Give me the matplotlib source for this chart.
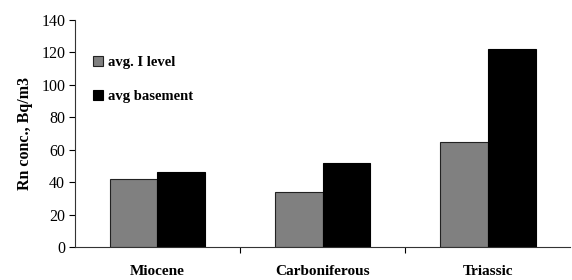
import matplotlib
matplotlib.use("Agg")
import matplotlib.pyplot as plt
import numpy as np

categories = ["Miocene", "Carboniferous", "Triassic"]
avg_level = [42, 34, 65]
avg_basement = [46, 52, 122]
series_names = ["avg. I level", "avg basement"]

plt.rcParams['font.family'] = ['Liberation Serif', 'DejaVu Serif']

fig = plt.figure(figsize=(5.72, 2.8), dpi=100)
ax = fig.add_axes([0.131, 0.118, 0.866, 0.811])

x = np.arange(len(categories))
w = 0.29
ax.bar(x - w/2, avg_level, w, color="#808080", edgecolor="#222222", linewidth=0.8, label=series_names[0])
ax.bar(x + w/2, avg_basement, w, color="#000000", edgecolor="#000000", linewidth=0.8, label=series_names[1])

ax.set_xlim(-0.5, 2.5)
ax.set_ylim(0, 140)
ax.set_yticks(range(0, 141, 20))
ax.tick_params(axis='y', labelsize=11.5, direction='out', length=4, pad=3)

ax.set_xticks([0.5, 1.5])
ax.set_xticklabels([])
ax.set_xticks(x, minor=True)
ax.set_xticklabels(categories, minor=True, fontweight='bold', fontsize=11)
ax.tick_params(axis='x', which='major', direction='out', length=4)
ax.tick_params(axis='x', which='minor', length=0, pad=13)

for s in ['top', 'right']:
    ax.spines[s].set_visible(False)
ax.spines['left'].set_color('#333333')
ax.spines['bottom'].set_color('#333333')

ax.set_ylabel("Rn conc., Bq/m3", fontweight='bold', fontsize=11.5, labelpad=6)

leg = ax.legend(loc='upper left', bbox_to_anchor=(0.01, 0.9), frameon=False,
                prop={'weight': 'bold', 'size': 10.5}, handlelength=0.7, handleheight=0.7,
                labelspacing=1.45, handletextpad=0.3)

fig.savefig("out.png", dpi=100)
